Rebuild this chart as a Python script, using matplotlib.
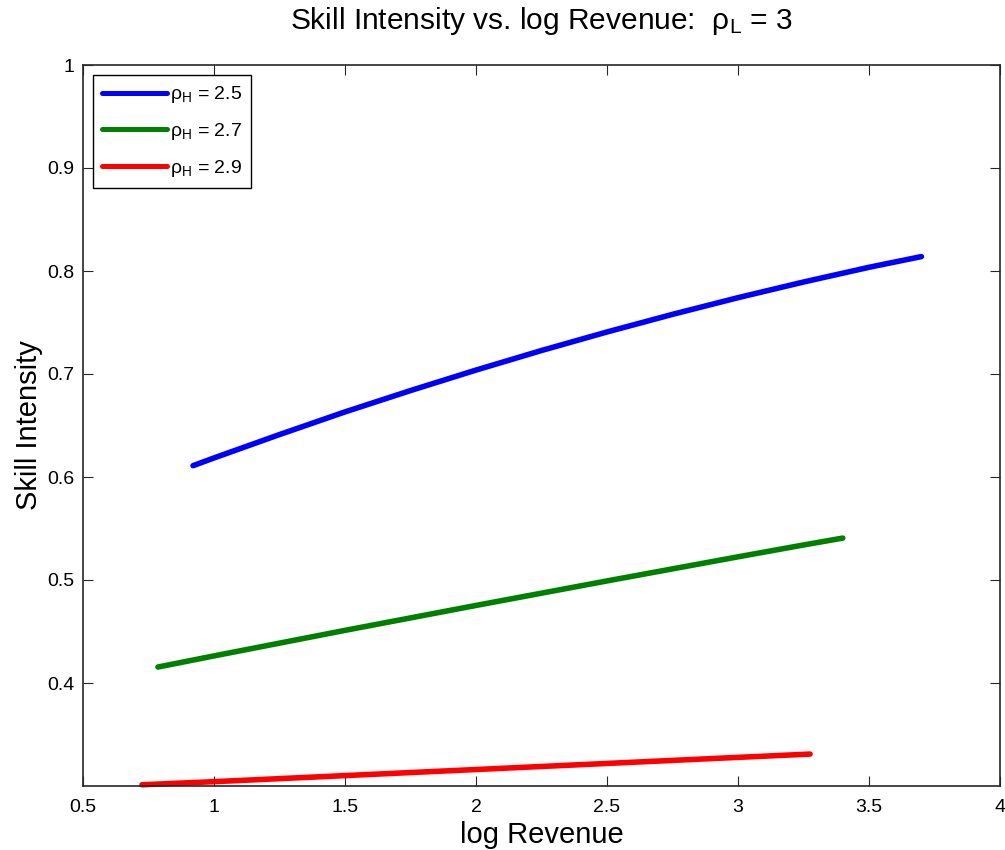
import numpy as np
import matplotlib
matplotlib.use('Agg')
from matplotlib import pyplot as plt

plt.rcParams['font.family'] = ['Liberation Sans', 'DejaVu Sans']
plt.rcParams['mathtext.fontset'] = 'custom'
plt.rcParams['mathtext.rm'] = 'Liberation Sans'
plt.rcParams['mathtext.it'] = 'Liberation Sans'

# log revenue / skill intensity for each rho_H
x_25 = [0.92, 1.0, 1.25, 1.5, 1.75, 2.0, 2.25, 2.5, 2.75, 3.0, 3.25, 3.5, 3.70]
y_25 = [0.611, 0.6185, 0.6412, 0.6632, 0.6839, 0.7038, 0.7228, 0.7408,
        0.7579, 0.7741, 0.7893, 0.8036, 0.8140]

x_27 = [0.786, 1.0, 1.25, 1.5, 1.75, 2.0, 2.25, 2.5, 2.75, 3.0, 3.25, 3.40]
y_27 = [0.4155, 0.4263, 0.4387, 0.4511, 0.4632, 0.4753, 0.4872, 0.4991,
        0.5108, 0.5225, 0.5340, 0.5407]

x_29 = [0.725, 1.0, 1.5, 2.0, 2.5, 3.0, 3.275]
y_29 = [0.3012, 0.3042, 0.3101, 0.3160, 0.3219, 0.3278, 0.3310]

labels = [r'$\mathregular{\rho_H}$ = 2.5', r'$\mathregular{\rho_H}$ = 2.7',
          r'$\mathregular{\rho_H}$ = 2.9']
colors = ['#0000ff', '#008000', '#ff0000']

xticks = [0.5, 1, 1.5, 2, 2.5, 3, 3.5, 4]
yticks = [0.4, 0.5, 0.6, 0.7, 0.8, 0.9, 1]

fig = plt.figure(figsize=(10.05, 8.5), dpi=100)
ax = fig.add_axes([83/1005, 64/850, 917/1005, 721/850])

for xs, ys, c, lab in zip([x_25, x_27, x_29], [y_25, y_27, y_29], colors, labels):
    ax.plot(xs, ys, color=c, lw=4.0, solid_capstyle='round',
            solid_joinstyle='round', label=lab, clip_on=False)

ax.set_xlim(0.5, 4)
ax.set_ylim(0.3, 1)
ax.set_xticks(xticks)
ax.set_xticklabels(['0.5', '1', '1.5', '2', '2.5', '3', '3.5', '4'])
ax.set_yticks(yticks)
ax.set_yticklabels(['0.4', '0.5', '0.6', '0.7', '0.8', '0.9', '1'])
ax.tick_params(direction='in', length=7, width=0.8, top=True, right=True,
               labelsize=14, pad=6, colors='#262626', labelcolor='black')
ax.tick_params(axis='x', pad=9)
for s in ax.spines.values():
    s.set_linewidth(1.2)
    s.set_color('#262626')

ax.set_xlabel('log Revenue', fontsize=21, labelpad=4)
ax.set_ylabel('Skill Intensity', fontsize=21, labelpad=3)
ax.set_title(r'Skill Intensity vs. log Revenue:  $\mathregular{\rho_L}$ = 3',
             fontsize=21.5, pad=26)

leg = ax.legend(loc='upper left', fontsize=14, handlelength=3.3,
                handletextpad=0.15, labelspacing=0.8, borderaxespad=0.5,
                fancybox=False, framealpha=1, borderpad=0.5)
leg.get_frame().set_edgecolor('black')
leg.get_frame().set_linewidth(1.0)
for ln in leg.get_lines():
    ln.set_linewidth(3.6)

fig.savefig('out.png', dpi=100, facecolor='white')
